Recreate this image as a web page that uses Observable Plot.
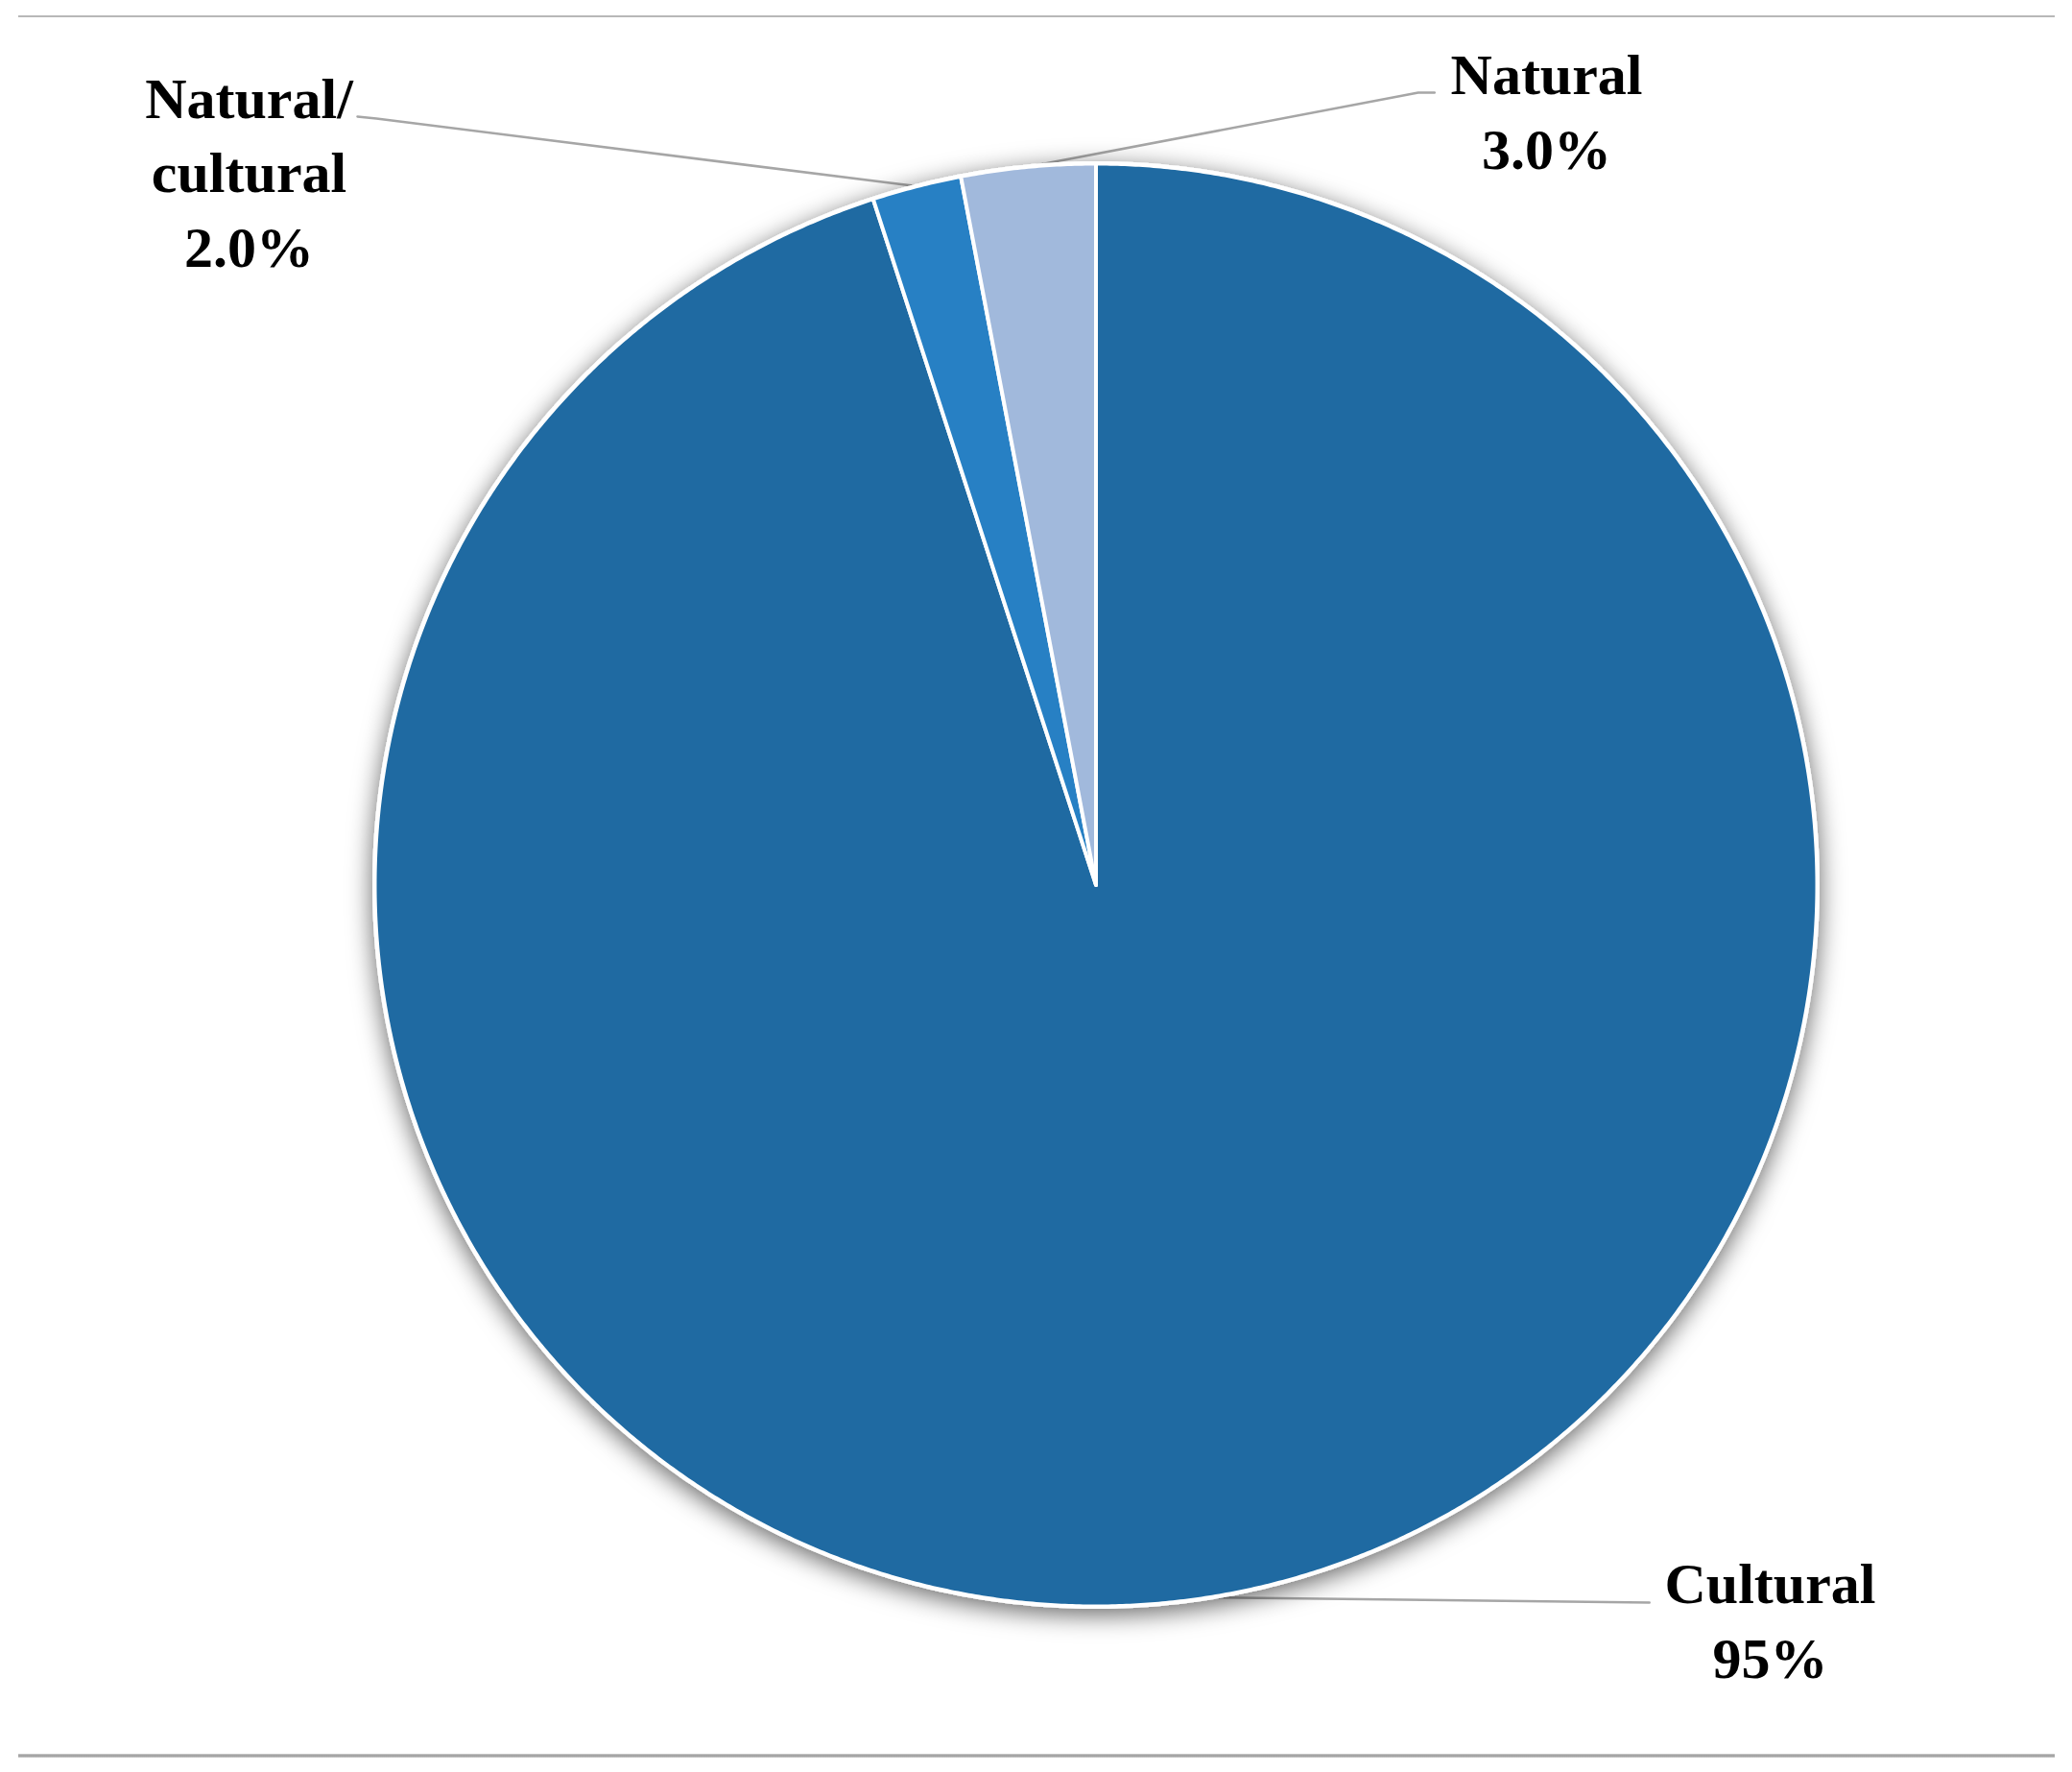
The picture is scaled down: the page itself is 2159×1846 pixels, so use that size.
<!DOCTYPE html>
<html><head><meta charset="utf-8">
<script src="https://cdn.jsdelivr.net/npm/d3@7"></script>
<script src="https://cdn.jsdelivr.net/npm/@observablehq/plot@0.6"></script>
<style>
html,body{margin:0;padding:0;background:#fff;}
#wrap{position:relative;width:2159px;height:1846px;overflow:hidden;}
#chart{position:absolute;left:0;top:0;}
.hr{position:absolute;left:19px;width:2122px;}
</style></head><body>
<div id="wrap">
<div id="chart"></div>
<div class="hr" style="top:16px;height:2px;background:#b8b8b8"></div>
<div class="hr" style="top:1827px;height:4px;background:linear-gradient(#d0d0d0,#979797,#d0d0d0)"></div>
</div>
<script>
// ---- data ----
const categories = ["Cultural", "Natural/cultural", "Natural"];
const shares = [95, 2.0, 3.0];
const valueLabels = ["95%", "2.0%", "3.0%"];
const nameLabels = ["Cultural", "Natural/\ncultural", "Natural"];
const colors = ["#1f6aa2", "#2780c4", "#a1b9dc"];

// ---- layout (label anchors & leader elbows in pie units, radius = 1) ----
const labelLayout = [
  {x: 0.9348, y: -1.0985, elbow: [0.7674, -0.9947], end: [0.7674, -0.9947]},
  {x: -1.1743, y: 0.8576, elbow: [-0.9977, 1.0626], end: [-1.024, 1.0652]},
  {x: 0.6248, y: 0.9933, elbow: [0.4468, 1.0985], end: [0.4694, 1.0985]}
];

// ---- pie geometry from the data ----
const arcs = d3.pie().sort(null).value(d => d)(shares);
const slices = arcs.map((a, i) => {
  const pts = [{x: 0, y: 0}];
  const n = Math.max(8, Math.ceil((a.endAngle - a.startAngle) / 0.005));
  for (let k = 0; k <= n; ++k) {
    const t = a.startAngle + (a.endAngle - a.startAngle) * k / n;
    pts.push({x: Math.sin(t), y: Math.cos(t)});
  }
  return pts;
});
const outline = d3.range(0, 721).map(k => ({x: Math.sin(k * Math.PI / 360), y: Math.cos(k * Math.PI / 360)}));

const leaderPts = [];
arcs.forEach((a, i) => {
  const m = (a.startAngle + a.endAngle) / 2;
  const L = labelLayout[i];
  leaderPts.push({k: i, x: Math.sin(m), y: Math.cos(m)});
  leaderPts.push({k: i, x: L.elbow[0], y: L.elbow[1]});
  leaderPts.push({k: i, x: L.end[0], y: L.end[1]});
});

const labels = categories.map((c, i) => ({
  x: labelLayout[i].x, y: labelLayout[i].y,
  text: nameLabels[i] + "\n" + valueLabels[i]
}));

const plot = Plot.plot({
  width: 2159, height: 1846,
  margin: 0,
  x: {domain: [-1, 1], range: [390, 1893], axis: null},
  y: {domain: [-1, 1], range: [1673, 170], axis: null},
  marks: [
    Plot.line(leaderPts, {x: "x", y: "y", z: "k", stroke: "#a6a6a6", strokeWidth: 2.5, curve: "linear"}),
    Plot.line(outline, {x: "x", y: "y", fill: "white", stroke: "white", strokeWidth: 5, curve: "linear-closed", className: "pieshadow"}),
    ...slices.map((pts, i) => Plot.line(pts, {x: "x", y: "y", fill: colors[i], stroke: "white", strokeWidth: 4,
      strokeLinejoin: "round", curve: "linear-closed"})),
    Plot.text(labels, {x: "x", y: "y", text: "text", fontSize: 60, fontWeight: "bold",
      fontFamily: "Liberation Serif, serif", fill: "black", textAnchor: "middle",
      lineAnchor: "bottom", lineHeight: 1.29})
  ]
});

try {
  const svg = d3.select(plot);
  const defs = svg.insert("defs", ":first-child");
  const f = defs.append("filter").attr("id", "pieShadow")
    .attr("x", "-10%").attr("y", "-10%").attr("width", "120%").attr("height", "120%");
  f.append("feDropShadow").attr("dx", 0).attr("dy", 6).attr("stdDeviation", 13)
    .attr("flood-color", "#000").attr("flood-opacity", 0.6);
  svg.selectAll(".pieshadow").attr("filter", "url(#pieShadow)");
} catch (e) {}

document.getElementById("chart").appendChild(plot);
</script>
</body></html>
